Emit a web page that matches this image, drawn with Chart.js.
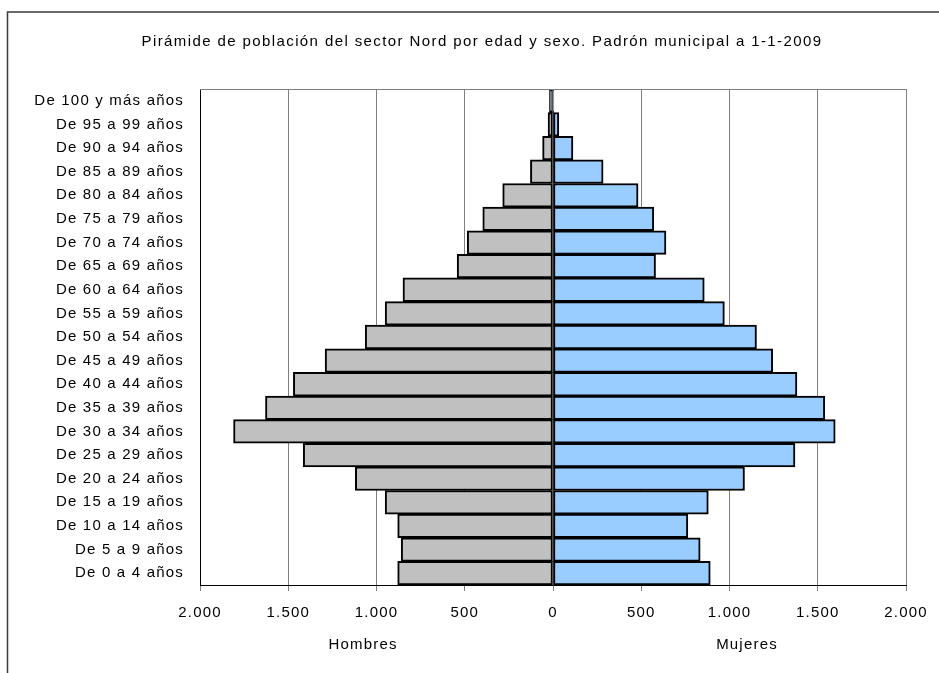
<!DOCTYPE html>
<html>
<head>
<meta charset="utf-8">
<script src="https://cdn.jsdelivr.net/npm/chart.js@4/dist/chart.umd.min.js"></script>
<style>
  html, body { margin: 0; padding: 0; background: #fff; }
  #wrap { width: 939px; height: 673px; }
</style>
</head>
<body>
<div id="wrap"><canvas id="piramide"></canvas></div>
<script>
// grupos de edad, de arriba a abajo
const edades = ['De 100 y más años', 'De 95 a 99 años', 'De 90 a 94 años', 'De 85 a 89 años',
  'De 80 a 84 años', 'De 75 a 79 años', 'De 70 a 74 años', 'De 65 a 69 años', 'De 60 a 64 años',
  'De 55 a 59 años', 'De 50 a 54 años', 'De 45 a 49 años', 'De 40 a 44 años', 'De 35 a 39 años',
  'De 30 a 34 años', 'De 25 a 29 años', 'De 20 a 24 años', 'De 15 a 19 años', 'De 10 a 14 años',
  'De 5 a 9 años', 'De 0 a 4 años'];
const hombres = [20, 28, 59, 128, 285, 398, 486, 543, 850, 951, 1064, 1291, 1471, 1629, 1810,
  1415, 1120, 951, 880, 860, 880];
const mujeres = [5, 33, 113, 284, 482, 571, 640, 581, 857, 971, 1153, 1245, 1382, 1540, 1599,
  1371, 1085, 880, 764, 834, 891];
const titulo = 'Pirámide de población del sector Nord por edad y sexo. Padrón municipal a 1-1-2009';

const fuente = '"Liberation Sans", Arial, sans-serif';

function miles(v) {
  return Math.abs(v).toString().replace(/\B(?=(\d{3})+(?!\d))/g, '.');
}

// marco, titulo y rotulos de sexo
const adornos = {
  id: 'adornos',
  beforeDraw(chart) {
    const c = chart.ctx;
    c.save();
    c.strokeStyle = '#3a3a3a';
    c.lineWidth = 1.5;
    c.beginPath();
    c.moveTo(7.5, 673);
    c.lineTo(7.5, 12);
    c.lineTo(939, 12);
    c.stroke();
    c.restore();
    // el texto del original va algo espaciado
    c.letterSpacing = '1.2px';
  },
  afterDraw(chart) {
    const c = chart.ctx;
    const a = chart.chartArea;
    c.save();
    c.strokeStyle = '#808080';
    c.lineWidth = 1;
    c.beginPath();
    c.moveTo(a.left, a.top + 0.5);
    c.lineTo(a.right, a.top + 0.5);
    c.stroke();
    c.fillStyle = '#000';
    c.font = '15px ' + fuente;
    c.textAlign = 'center';
    c.textBaseline = 'middle';
    c.letterSpacing = '1.4px';
    c.fillText(titulo, 482, 42);
    c.letterSpacing = '1.2px';
    c.fillText('Hombres', 363, 645);
    c.fillText('Mujeres', 747, 645);
    c.restore();
    c.letterSpacing = '0px';
  }
};

const ctx = document.getElementById('piramide').getContext('2d');
const grafico = new Chart(ctx, {
  type: 'bar',
  data: {
    labels: edades,
    datasets: [{
      label: 'Hombres',
      data: hombres.map(v => -v),
      backgroundColor: '#C0C0C0',
      borderColor: '#000',
      borderWidth: 2,
      borderSkipped: false
    }, {
      label: 'Mujeres',
      data: mujeres,
      backgroundColor: '#99CCFF',
      borderColor: '#000',
      borderWidth: 2,
      borderSkipped: false
    }]
  },
  options: {
    indexAxis: 'y',
    responsive: true,
    maintainAspectRatio: false,
    animation: false,
    barPercentage: 1,
    categoryPercentage: 1,
    layout: { padding: { top: 89, right: 33, bottom: 0, left: 0 } },
    plugins: {
      legend: { display: false },
      title: { display: false },
      tooltip: { enabled: false }
    },
    scales: {
      x: {
        stacked: true,
        min: -2000,
        max: 2000,
        grid: { color: '#808080', lineWidth: 1, tickLength: 6, tickColor: '#808080' },
        border: { color: '#000', width: 1 },
        ticks: {
          stepSize: 500,
          padding: 13,
          color: '#000',
          font: { family: fuente, size: 15 },
          maxRotation: 0,
          callback: v => miles(v)
        },
        afterFit(s) { s.height = 88; }
      },
      y: {
        stacked: true,
        grid: { display: false, drawTicks: false },
        border: { color: '#000', width: 1 },
        ticks: {
          padding: 16,
          color: '#000',
          autoSkip: false,
          font: { family: fuente, size: 15 }
        },
        afterFit(s) { s.width = 200; }
      }
    }
  },
  plugins: [adornos]
});
</script>
</body>
</html>
